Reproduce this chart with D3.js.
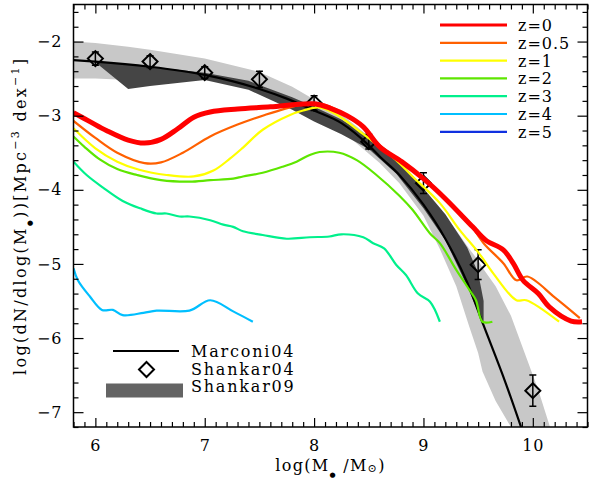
<!DOCTYPE html>
<html><head><meta charset="utf-8">
<script src="https://cdn.jsdelivr.net/npm/d3@7"></script>
<style>
body{margin:0;background:#fff}
svg{display:block}
text{font-family:"DejaVu Serif",serif;fill:#000}
</style>
</head><body>
<svg id="c" width="589" height="487"></svg>
<script>
// ---------------- data ----------------
const xTicks = [6, 7, 8, 9, 10];
const yTicks = [-2, -3, -4, -5, -6, -7];
const xTickLabels = ["6", "7", "8", "9", "10"];
const yTickLabels = ["\u22122", "\u22123", "\u22124", "\u22125", "\u22126", "\u22127"];

const zLabels = ["z=0", "z=0.5", "z=1", "z=2", "z=3", "z=4", "z=5"];
const zColors = ["#ff0000", "#ff6000", "#ffff00", "#5ee600", "#00f08c", "#00bfff", "#1030e0"];

const z0_x = [5.8, 5.95, 6.1, 6.3, 6.45, 6.6, 6.75, 6.9, 7.05, 7.3, 7.6, 8.0, 8.15, 8.3, 8.45, 8.6, 8.8, 9.0, 9.2, 9.45, 9.57, 9.73, 9.82, 9.91, 10.05, 10.15, 10.35, 10.45];
const z0_y = [-2.96, -3.08, -3.2, -3.33, -3.37, -3.32, -3.18, -3.02, -2.95, -2.91, -2.88, -2.84, -2.9, -3.0, -3.15, -3.42, -3.62, -3.85, -4.12, -4.5, -4.68, -4.81, -4.99, -5.22, -5.4, -5.58, -5.77, -5.78];

const z05_x = [5.8, 6.0, 6.2, 6.45, 6.6, 6.8, 7.05, 7.3, 7.55, 7.85, 8.0, 8.15, 8.3, 8.45, 8.6, 8.8, 9.0, 9.2, 9.42, 9.55, 9.73, 9.85, 9.95, 10.2, 10.43];
const z05_y = [-3.07, -3.3, -3.5, -3.64, -3.63, -3.5, -3.28, -3.12, -2.99, -2.86, -2.83, -2.88, -3.0, -3.15, -3.4, -3.62, -3.85, -4.12, -4.45, -4.72, -4.99, -5.22, -5.17, -5.45, -5.73];

const z1_x = [5.8, 6.0, 6.2, 6.4, 6.65, 6.9, 7.08, 7.23, 7.35, 7.53, 7.78, 7.9, 8.05, 8.2, 8.45, 8.75, 8.9, 9.15, 9.33, 9.51, 9.64, 9.85, 9.94, 10.24];
const z1_y = [-3.17, -3.44, -3.62, -3.73, -3.8, -3.82, -3.74, -3.58, -3.43, -3.19, -2.99, -2.93, -2.89, -2.98, -3.25, -3.6, -3.82, -4.18, -4.54, -4.86, -5.13, -5.49, -5.49, -5.78];

const z2_x = [5.8, 5.9, 6.04, 6.2, 6.38, 6.6, 6.86, 7.05, 7.26, 7.35, 7.53, 7.71, 7.84, 7.96, 8.05, 8.23, 8.39, 8.57, 8.78, 8.9, 9.06, 9.15, 9.3, 9.42, 9.48, 9.54, 9.63];
const z2_y = [-3.28, -3.42, -3.59, -3.72, -3.8, -3.87, -3.89, -3.87, -3.85, -3.82, -3.77, -3.69, -3.62, -3.53, -3.49, -3.5, -3.6, -3.8, -4.08, -4.27, -4.59, -4.72, -5.08, -5.35, -5.49, -5.78, -5.78];

const z3_x = [5.8, 5.92, 6.07, 6.25, 6.41, 6.56, 6.65, 6.77, 6.86, 7.05, 7.17, 7.26, 7.35, 7.53, 7.75, 7.96, 8.14, 8.25, 8.45, 8.54, 8.64, 8.75, 8.84, 8.95, 9.06, 9.15];
const z3_y = [-3.62, -3.8, -3.97, -4.15, -4.25, -4.32, -4.32, -4.36, -4.36, -4.41, -4.47, -4.5, -4.56, -4.61, -4.66, -4.64, -4.63, -4.6, -4.64, -4.72, -4.79, -5.01, -5.15, -5.4, -5.51, -5.78];

const z4_x = [5.8, 5.84, 5.95, 6.06, 6.16, 6.25, 6.44, 6.56, 6.86, 7.05, 7.26, 7.44];
const z4_y = [-5.06, -5.22, -5.44, -5.62, -5.62, -5.69, -5.66, -5.63, -5.63, -5.49, -5.64, -5.78];

const z5_x = [];
const z5_y = [];

// Marconi04 mass function (black line)
const marconi_x = [5.8, 6.0, 6.5, 7.0, 7.5, 7.75, 8.0, 8.25, 8.5, 8.6, 8.78, 9.0, 9.2, 9.4, 9.55, 9.75, 9.95];
const marconi_y = [-2.25, -2.27, -2.34, -2.45, -2.64, -2.77, -2.93, -3.1, -3.4, -3.55, -3.8, -4.2, -4.66, -5.25, -5.83, -6.6, -7.45];

// Marconi04 uncertainty (light grey band)
const mband_x = [5.8, 6.0, 6.3, 6.5, 7.0, 7.5, 7.8, 8.0, 8.25, 8.6, 8.78, 9.0, 9.15, 9.3, 9.42, 9.5, 9.54, 9.66, 9.8, 9.95, 10.05, 10.2];
const mband_hi = [-2.0, -2.02, -2.07, -2.11, -2.23, -2.41, -2.61, -2.78, -2.98, -3.4, -3.65, -4.0, -4.25, -4.55, -4.8, -4.95, -5.05, -5.3, -5.7, -6.3, -6.7, -7.4];
const mband_lo = [-2.5, -2.5, -2.52, -2.5, -2.48, -2.6, -2.85, -3.0, -3.2, -3.64, -3.91, -4.35, -4.8, -5.3, -5.85, -6.2, -6.45, -6.85, -7.2, -7.5, -7.6, -7.6];

// Shankar09 (dark grey band)
const s09_x = [6.0, 6.3, 6.5, 7.0, 7.4, 7.8, 8.0, 8.25, 8.5, 8.75, 9.0, 9.2, 9.4, 9.5, 9.55];
const s09_hi = [-2.26, -2.31, -2.34, -2.42, -2.53, -2.75, -2.88, -3.05, -3.28, -3.55, -3.98, -4.33, -4.78, -5.12, -5.5];
const s09_lo = [-2.28, -2.64, -2.6, -2.52, -2.65, -2.92, -3.08, -3.25, -3.45, -3.78, -4.25, -4.68, -5.3, -5.65, -5.78];

// Shankar04 points
const s04_x = [6.0, 6.5, 7.0, 7.5, 8.0, 8.5, 9.0, 9.5, 10.0];
const s04_y = [-2.23, -2.27, -2.42, -2.51, -2.83, -3.35, -3.91, -5.01, -6.71];
const s04_err = [0.09, 0.08, 0.08, 0.11, 0.1, 0.1, 0.14, 0.2, 0.21];

// ---------------- layout ----------------
const svg = d3.select("#c");
const L = 73.5, R = 587.5, T = 4.5, B = 427;
const x = d3.scaleLinear().domain([5.8, 10.5]).range([L, R]);
const y = d3.scaleLinear().domain([-7.2, -1.5]).range([B, T]);

svg.append("defs").append("clipPath").attr("id", "clip")
  .append("rect").attr("x", L).attr("y", T).attr("width", R - L).attr("height", B - T);
const plot = svg.append("g").attr("clip-path", "url(#clip)");

const zip = (xs, ...cols) => xs.map((v, i) => [v, ...cols.map(c => c[i])]);

// light band
plot.append("path")
  .datum(zip(mband_x, mband_hi, mband_lo))
  .attr("fill", "#c8c8c8")
  .attr("d", d3.area().x(d => x(d[0])).y0(d => y(d[2])).y1(d => y(d[1])));
// dark band
plot.append("path")
  .datum(zip(s09_x, s09_hi, s09_lo))
  .attr("fill", "#454545")
  .attr("d", d3.area().x(d => x(d[0])).y0(d => y(d[2])).y1(d => y(d[1])));
// Marconi line
plot.append("path")
  .datum(zip(marconi_x, marconi_y))
  .attr("fill", "none").attr("stroke", "#000").attr("stroke-width", 2.2)
  .attr("d", d3.line().curve(d3.curveMonotoneX).x(d => x(d[0])).y(d => y(d[1])));

// Shankar04 diamonds with error bars
const s04 = zip(s04_x, s04_y, s04_err);
const dg = plot.append("g").attr("stroke", "#000").attr("fill", "none");
s04.forEach(d => {
  const cx = x(d[0]), cy = y(d[1]);
  const y1 = y(d[1] + d[2]), y2 = y(d[1] - d[2]);
  dg.append("line").attr("x1", cx).attr("x2", cx).attr("y1", y1).attr("y2", y2).attr("stroke-width", 1.5);
  dg.append("line").attr("x1", cx - 3.5).attr("x2", cx + 3.5).attr("y1", y1).attr("y2", y1).attr("stroke-width", 1.5);
  dg.append("line").attr("x1", cx - 3.5).attr("x2", cx + 3.5).attr("y1", y2).attr("y2", y2).attr("stroke-width", 1.5);
  dg.append("path").attr("stroke-width", 2)
    .attr("d", `M${cx},${cy - 7.5}L${cx + 7.5},${cy}L${cx},${cy + 7.5}L${cx - 7.5},${cy}Z`);
});

// model curves, z=5 first so z=0 on top
const zx = [z0_x, z05_x, z1_x, z2_x, z3_x, z4_x, z5_x];
const zy = [z0_y, z05_y, z1_y, z2_y, z3_y, z4_y, z5_y];
const zWidth = [5, 2.2, 2.2, 2.2, 2.2, 2.2, 2.2];
const line = d3.line().x(d => x(d[0])).y(d => y(d[1])).curve(d3.curveCatmullRom.alpha(0.5));
for (let i = zx.length - 1; i >= 0; i--) {
  if (!zx[i].length) continue;
  plot.append("path").datum(zip(zx[i], zy[i]))
    .attr("fill", "none").attr("stroke", zColors[i]).attr("stroke-width", zWidth[i])
    .attr("stroke-linejoin", "round").attr("stroke-linecap", "butt")
    .attr("d", line);
}

// ---------------- axes ----------------
const fs = 16;
const axG = svg.append("g");
function styleAxis(g) {
  g.select(".domain").remove();
  g.selectAll(".tick line").attr("stroke", "#000").attr("stroke-width", 1.2);
  g.selectAll("text").style("font-family", "DejaVu Serif").style("font-size", fs + "px");
}
const xMinor = d3.range(58, 106).map(v => v / 10).filter(v => !xTicks.includes(v));
const yMinor = d3.range(-36, -7).map(v => v / 5).filter(v => !yTicks.includes(v));

// bottom
axG.append("g").attr("transform", `translate(0,${B})`)
  .call(d3.axisBottom(x).tickValues(xTicks).tickFormat((d, i) => xTickLabels[i]).tickSize(-9).tickPadding(13))
  .call(styleAxis);
axG.append("g").attr("transform", `translate(0,${B})`)
  .call(d3.axisBottom(x).tickValues(xMinor).tickFormat("").tickSize(-5)).call(styleAxis);
// top
axG.append("g").attr("transform", `translate(0,${T})`)
  .call(d3.axisTop(x).tickValues(xTicks).tickFormat("").tickSize(-9)).call(styleAxis);
axG.append("g").attr("transform", `translate(0,${T})`)
  .call(d3.axisTop(x).tickValues(xMinor).tickFormat("").tickSize(-5)).call(styleAxis);
// left
axG.append("g").attr("transform", `translate(${L},0)`)
  .call(d3.axisLeft(y).tickValues(yTicks).tickFormat((d, i) => yTickLabels[i]).tickSize(-10).tickPadding(11))
  .call(styleAxis);
axG.append("g").attr("transform", `translate(${L},0)`)
  .call(d3.axisLeft(y).tickValues(yMinor).tickFormat("").tickSize(-5)).call(styleAxis);
// right
axG.append("g").attr("transform", `translate(${R},0)`)
  .call(d3.axisRight(y).tickValues(yTicks).tickFormat("").tickSize(-10)).call(styleAxis);
axG.append("g").attr("transform", `translate(${R},0)`)
  .call(d3.axisRight(y).tickValues(yMinor).tickFormat("").tickSize(-5)).call(styleAxis);

axG.selectAll("text").attr("letter-spacing", 1);

// frame
svg.append("rect").attr("x", L).attr("y", T).attr("width", R - L).attr("height", B - T)
  .attr("fill", "none").attr("stroke", "#000").attr("stroke-width", 1.5);

// axis titles
const xt = svg.append("text").attr("x", (L + R) / 2).attr("y", 471)
  .attr("text-anchor", "middle").style("font-size", "16px").attr("letter-spacing", 1.3);
xt.append("tspan").text("log(M");
xt.append("tspan").text("\u25CF").attr("dy", 6).style("font-size", "7px");
xt.append("tspan").text(" /M").attr("dy", -6);
xt.append("tspan").text("\u2299").attr("dy", 1).style("font-size", "11px");
xt.append("tspan").text(")").attr("dy", -1);

const yt = svg.append("text").attr("transform", `translate(26,${(T + B) / 2}) rotate(-90)`)
  .attr("text-anchor", "middle").style("font-size", "16px").attr("letter-spacing", 2.3);
yt.append("tspan").text("log(dN/dlog(M");
yt.append("tspan").text("\u25CF").attr("dy", 6).style("font-size", "7px");
yt.append("tspan").text("))[Mpc").attr("dy", -6);
yt.append("tspan").text("\u22123").attr("dy", -7).style("font-size", "11px");
yt.append("tspan").text(" dex").attr("dy", 7);
yt.append("tspan").text("\u22121").attr("dy", -7).style("font-size", "11px");
yt.append("tspan").text("]").attr("dy", 7);

// ---------------- legends ----------------
const legY0 = 25, legDy = 17.8;
zLabels.forEach((lab, i) => {
  const yy = legY0 + i * legDy;
  svg.append("line").attr("x1", 440).attr("x2", 507).attr("y1", yy).attr("y2", yy)
    .attr("stroke", zColors[i]).attr("stroke-width", i === 0 ? 3 : 2.2);
  svg.append("text").attr("x", 518).attr("y", yy + 6).style("font-size", "16px")
    .attr("letter-spacing", 1).text(lab);
});

// bottom-left legend
svg.append("line").attr("x1", 113).attr("x2", 179).attr("y1", 351).attr("y2", 351)
  .attr("stroke", "#000").attr("stroke-width", 2);
svg.append("text").attr("x", 191).attr("y", 357).style("font-size", "16px").attr("letter-spacing", 1.8).text("Marconi04");
svg.append("path").attr("fill", "none").attr("stroke", "#000").attr("stroke-width", 2)
  .attr("d", "M146.5,362L154,369.5L146.5,377L139,369.5Z");
svg.append("text").attr("x", 191).attr("y", 374.5).style("font-size", "16px").attr("letter-spacing", 1.8).text("Shankar04");
svg.append("rect").attr("x", 106).attr("y", 383.5).attr("width", 77).attr("height", 14).attr("fill", "#646464");
svg.append("text").attr("x", 191).attr("y", 392).style("font-size", "16px").attr("letter-spacing", 1.8).text("Shankar09");
</script>
</body></html>
